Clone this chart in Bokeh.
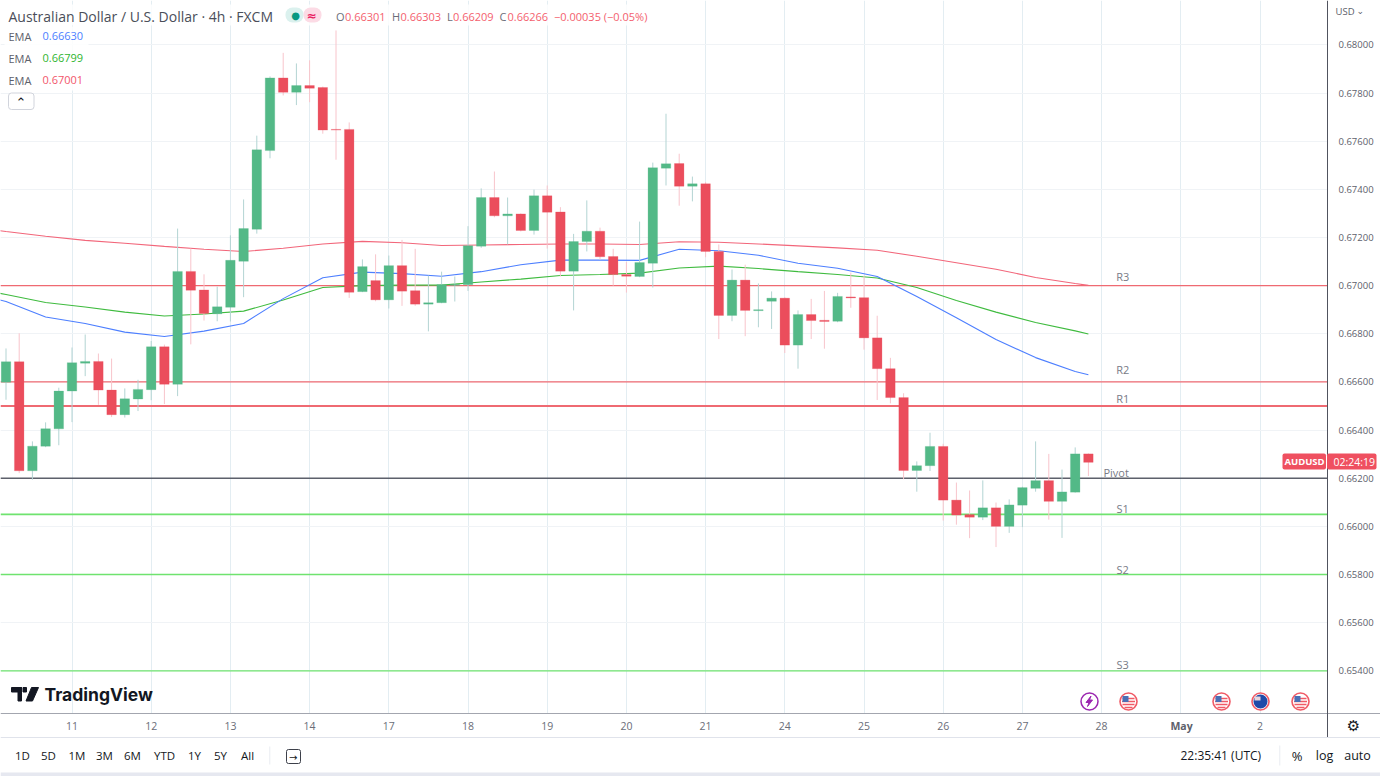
from bokeh.embed import file_html
from bokeh.resources import INLINE
from bokeh.plotting import figure
from bokeh.core.properties import value
from bokeh.models import (ColumnDataSource, FixedTicker, LinearAxis, Range1d, Label,
                          BoxAnnotation, NumeralTickFormatter)

# ---------- data ----------
open_ = [.66599,.66684,.66231,.66333,.66405,.66562,.66678,.66685,.66566,.66464,.66529,.66568,.66746,.66590,.67059,.66982,.66883,.66910,.67101,.67234,.67561,.67863,.67803,.67831,.67823,.67649,.67649,.66975,.67021,.66941,.67083,.66979,.66923,.66929,.67001,.67004,.67164,.67366,.67290,.67298,.67229,.67373,.67306,.67060,.67183,.67226,.67121,.67046,.67038,.67093,.67488,.67507,.67413,.67423,.67142,.66876,.67023,.66896,.66935,.66948,.66753,.66880,.66856,.66852,.66953,.66950,.66783,.66655,.66535,.66232,.66252,.66332,.66109,.66049,.66038,.66077,.66000,.66088,.66158,.66190,.66104,.66142,.66301]
high_ = [.66739,.66802,.66353,.66432,.66576,.66743,.66797,.66718,.66697,.66573,.66609,.66770,.66755,.67237,.67154,.67047,.66996,.67209,.67358,.67623,.67869,.67967,.67923,.67936,.67827,.68060,.67678,.67109,.67130,.67125,.67190,.67153,.67042,.67058,.67038,.67247,.67404,.67474,.67366,.67300,.67399,.67416,.67326,.67215,.67354,.67241,.67153,.67098,.67266,.67511,.67714,.67548,.67453,.67430,.67171,.67067,.67087,.67009,.66976,.66952,.66897,.66945,.66978,.66970,.67054,.67041,.66875,.66700,.66553,.66270,.66389,.66343,.66182,.66149,.66191,.66099,.66112,.66165,.66353,.66301,.66236,.66328,.66303]
low_ = [.66526,.66221,.66194,.66329,.66337,.66433,.66624,.66505,.66454,.66452,.66479,.66524,.66508,.66541,.66756,.66855,.66852,.66851,.66952,.67216,.67529,.67790,.67750,.67762,.67631,.67523,.66949,.66973,.66935,.66905,.66916,.66916,.66810,.66927,.66934,.66978,.67157,.67284,.67171,.67225,.67212,.67154,.67038,.66897,.67142,.67108,.67000,.66971,.67035,.66992,.67416,.67332,.67350,.67118,.66778,.66852,.66790,.66827,.66820,.66720,.66655,.66778,.66738,.66848,.66908,.66734,.66525,.66511,.66196,.66144,.66230,.66024,.66007,.65951,.66026,.65914,.65973,.65997,.66144,.66028,.65952,.66140,.66209]
close_ = [.66684,.66231,.66333,.66406,.66562,.66680,.66685,.66566,.66464,.66530,.66569,.66746,.66590,.67059,.66981,.66884,.66912,.67105,.67237,.67564,.67863,.67803,.67831,.67820,.67646,.67646,.66972,.67079,.66941,.67083,.66977,.66923,.66929,.67004,.67005,.67166,.67366,.67290,.67298,.67229,.67373,.67305,.67060,.67183,.67226,.67120,.67046,.67039,.67096,.67490,.67506,.67413,.67423,.67142,.66876,.67023,.66897,.66900,.66948,.66753,.66880,.66855,.66851,.66955,.66949,.66783,.66655,.66535,.66232,.66252,.66332,.66109,.66047,.66038,.66077,.66000,.66089,.66161,.66190,.66104,.66143,.66301,.66266]

ema_idx = [-1,0,3,6,9,12,15,18,21,24,27,30,33,36,39,42,45,48,51,54,57,60,63,66,69,72,75,78,81,82]
ema_red = [.67232,.67225,.67205,.67188,.67176,.67163,.67151,.67142,.67155,.67173,.67184,.67178,.67167,.67169,.67171,.67173,.67173,.67171,.67182,.67180,.67173,.67165,.67157,.67147,.67122,.67095,.67068,.67034,.67009,.67001]
ema_blue = [.66948,.66934,.66870,.66843,.66807,.66789,.66811,.66843,.66946,.67033,.67056,.67050,.67039,.67058,.67087,.67106,.67106,.67105,.67151,.67145,.67126,.67093,.67072,.67038,.66955,.66867,.66776,.66701,.66643,.66630]
ema_green = [.66974,.66963,.66930,.66911,.66890,.66874,.66882,.66894,.66940,.66992,.67000,.67002,.67002,.67015,.67027,.67042,.67046,.67052,.67073,.67081,.67071,.67058,.67046,.67032,.66992,.66938,.66890,.66847,.66812,.66799]

level_names = ["R3","R2","R1","Pivot","S1","S2","S3"]
level_values = [.6700,.6660,.6650,.6620,.6605,.6580,.6540]
level_colors = ["#ef6a72","#ef6a72","#ef6a72","#5d606b","#6fe36f","#6fe36f","#6fe36f"]
level_widths = [1.3,1.3,1.8,1.5,1.8,1.5,1.3]
level_label_idx = [84.6,84.6,84.6,84.1,84.6,84.6,84.6]
level_label_off = [-2,-5,0,2,2,2,1]

price_ticks = [.654,.656,.658,.660,.662,.664,.666,.668,.670,.672,.674,.676,.678,.680]
time_ticks = [5,11,17,23,29,35,41,47,53,59,65,71,77,83,89,95]
time_labels = ["11","12","13","14","17","18","19","20","21","24","25","26","27","28","May","2"]

range_buttons = ["1D","5D","1M","3M","6M","YTD","1Y","5Y","All"]

# ---------- frame / scales ----------
GX0, GSTEP = 5.5, 13.2        # px of candle 0, px per candle
Y680, PPP = 44.4, 4.154e-5    # px of 0.68000, price per px
ix = lambda px: (px - GX0) / GSTEP
iy = lambda py: 0.68 - (py - Y680) * PPP

FONT = "Open Sans"
AXX, AXY = 1327, 713
p = figure(frame_width=1380, frame_height=776, output_backend="svg", toolbar_location=None,
           x_range=Range1d(ix(0), ix(1380)), y_range=Range1d(iy(776), iy(0)),
           min_border=0, outline_line_color=None, background_fill_color="white",
           border_fill_color="white", y_axis_location=None)

p.xaxis.ticker = FixedTicker(ticks=time_ticks)
p.xaxis.major_label_overrides = {t: ("" if l == "May" else l) for t, l in zip(time_ticks, time_labels)}
p.xaxis.major_tick_line_color = None
p.xaxis.minor_tick_line_color = None
p.xaxis.axis_line_color = "#a3a6af"
p.xaxis.major_label_text_color = "#6a6d78"
p.xaxis.major_label_text_font = FONT
p.xaxis.major_label_text_font_size = "10.5px"
p.xaxis.major_label_standoff = 2
p.xaxis.fixed_location = iy(AXY)

ya = LinearAxis(ticker=FixedTicker(ticks=price_ticks), formatter=NumeralTickFormatter(format="0.00000"),
                fixed_location=ix(AXX), bounds=(iy(737), iy(0)))
ya.major_tick_line_color = None
ya.minor_tick_line_color = None
ya.axis_line_color = "#50535e"
ya.major_label_text_color = "#5d606b"
ya.major_label_text_font = FONT
ya.major_label_text_font_size = "9.5px"
ya.major_label_standoff = 5
p.add_layout(ya, "right")

p.xgrid.ticker = FixedTicker(ticks=time_ticks)
p.xgrid.grid_line_color = "#e3edf2"
p.ygrid.grid_line_color = "#f0f3f6"
p.ygrid.ticker = FixedTicker(ticks=price_ticks)

def B(x0, y0, x1, y1, fill=None, line=None, radius=0, alpha=1.0, level="overlay"):
    p.add_layout(BoxAnnotation(left=x0, right=x1, top=y0, bottom=y1,
                               left_units="canvas", right_units="canvas", top_units="canvas", bottom_units="canvas",
                               fill_color=fill, fill_alpha=alpha if fill else 0, line_color=line,
                               line_alpha=1 if line else 0, line_width=1, border_radius=radius, level=level,
                               editable=False))

# white panels hide the grid outside the plotting area
B(AXX, 0, 1380, 776, fill="white", level="underlay")
B(0, AXY, 1380, 776, fill="white", level="underlay")
B(0, 4, 660, 25, fill="white", alpha=0.8, level="underlay")
B(4, 26, 88, 90, fill="white", alpha=0.85, level="underlay")

# ---------- pivot levels ----------
n_levels = len(level_values)
p.segment([ix(0)] * n_levels, level_values, [ix(AXX)] * n_levels, level_values,
          line_color=level_colors, line_width=level_widths)

# ---------- EMAs ----------
p.line(ema_idx, ema_red, line_color="#f2667a", line_width=1.1)
p.line(ema_idx, ema_green, line_color="#3fbb3f", line_width=1.1)
p.line(ema_idx, ema_blue, line_color="#4d7fff", line_width=1.1)

# ---------- candles ----------
idx = list(range(len(open_)))
up = [c >= o for o, c in zip(open_, close_)]
src = ColumnDataSource(dict(
    x=idx, high=high_, low=low_,
    top=[max(o, c) for o, c in zip(open_, close_)],
    bottom=[min(o, c) for o, c in zip(open_, close_)],
    body=["#53b987" if u else "#eb4d5c" for u in up],
    wick=["#b3d4d3" if u else "#f8c4cb" for u in up],
))
p.segment("x", "high", "x", "low", source=src, line_color="wick", line_width=1)
p.vbar("x", 0.72, "top", "bottom", source=src, fill_color="body", line_color="body", line_width=0.5, line_alpha=0.5)

# ---------- level labels ----------
p.text(level_label_idx, level_values, text=level_names, text_color="#787b86", text_font=value(FONT),
       text_font_size="11px", text_align="center", text_baseline="bottom",
       y_offset=level_label_off)

# ---------- chrome helpers ----------
def T(x, y, s, color="#131722", size=12, align="left", style="normal", font=FONT):
    p.add_layout(Label(x=x, y=y, x_units="canvas", y_units="canvas", text=s, text_color=color,
                       text_font=font, text_font_size=f"{size}px", text_align=align,
                       text_baseline="middle", text_font_style=style, level="overlay"))

# Legend
T(8, 16, "Australian Dollar / U.S. Dollar · 4h · FXCM", "#4a4e59", 14)
B(285, 7, 303, 22, fill="#dbf1ee", radius=7)
B(303, 7, 321, 22, fill="#fcdbe5", radius=7)
T(295, 15, "●", "#089981", 10, "center", font="DejaVu Sans")
T(311, 15, "≈", "#e91e63", 12, "center", "bold", font="DejaVu Sans")
RED = "#f4616e"
for lx, letter, vx, val in [(335.5, "O", 344.5, "0.66301"), (391.5, "H", 400, "0.66303"),
                            (446.5, "L", 452.5, "0.66209"), (499, "C", 507, "0.66266")]:
    T(lx, 16, letter, "#6a6d78", 11)
    T(vx, 16, val, RED, 11)
T(553.5, 16, "−0.00035 (−0.05%)", RED, 11)

for y, val, col in [(35.5, "0.66630", "#4d7fff"), (57.5, "0.66799", "#2fb52f"), (79.5, "0.67001", "#f2566a")]:
    T(8, y, "EMA", "#5d606b", 11)
    T(42, y, val, col, 11)
B(8, 92.5, 33.5, 109, fill="white", line="#d1d4dc", radius=3)
T(20.5, 102, "⌃", "#131722", 13, "center", font="DejaVu Sans")

# Price axis extras
T(1335, 11, "USD", "#5d606b", 9.5)
T(1356, 10, "⌄", "#5d606b", 9, font="DejaVu Sans")

# Current price tag
B(1282, 453, 1325.5, 469, fill="#ef5060", radius=2)
B(1326.5, 453, 1376, 469, fill="#ef5060", radius=2)
T(1304, 461, "AUDUSD", "white", 9.5, "center", "bold")
T(1333, 461, "02:24:19", "#ffffff", 10.5)

# Below-axis lines and texts
T(1181, 725, "May", "#5d606b", 10.5, "center", "bold")
B(0, 736.6, 1380, 737.4, fill="#e0e3eb")
B(0, 772, 1380, 776, fill="#e6e8f0")
T(1353, 725, "⚙", "#131722", 15, "center", font="DejaVu Sans")

for cx, s in zip([22, 48, 76.5, 104, 132, 164, 194, 220, 247], range_buttons):
    T(cx, 755, s, "#131722", 11.5, "center")
B(269, 746, 269.7, 764, fill="#e0e3eb")
B(286, 749, 300, 763, line="#3d404a", radius=2)
T(288.5, 757, "→", "#131722", 10, font="DejaVu Sans")
T(1180, 755, "22:35:41 (UTC)", "#131722", 12)
B(1279, 745, 1279.7, 765, fill="#e0e3eb")
T(1296.5, 755, "%", "#131722", 13, "center")
T(1324, 755, "log", "#131722", 12.5, "center")
T(1357, 755, "auto", "#131722", 12.5, "center")

# TradingView logo
p.quad(left=[ix(11), ix(17.5), ix(22.5)], right=[ix(21), ix(21), ix(26)],
       top=[iy(687), iy(687), iy(687)], bottom=[iy(691.5), iy(700.5), iy(691.5)], color="#131722")
p.patch([ix(31), ix(38), ix(32), ix(25.5)], [iy(687), iy(687), iy(700.5), iy(700.5)], color="#131722")
T(44, 694, "TradingView", "#131722", 17.5, style="bold", font="Inter")

# Calendar event icons
ev_x = [ix(1128), ix(1221), ix(1300)]
ev_y = iy(701)
p.scatter(ev_x + [ix(1260)], [ev_y] * 4, size=17, marker="circle", fill_color="white", line_color="#f05a66", line_width=1.6)
for dy, wid in [(-3, 12), (0, 13), (3, 12), (6, 8)]:
    p.rect(ev_x, [iy(701 + dy)] * 3, width=wid, height=1.5, width_units="screen", height_units="screen",
           fill_color="#f05a66", line_color=None)
p.rect([ix(x - 3) for x in (1128, 1221, 1300)], [iy(698.5)] * 3, width=6, height=6, width_units="screen",
       height_units="screen", fill_color="#4a6fb5", line_color=None)
p.scatter([ix(1260)], [ev_y], size=14, marker="circle", fill_color="#1f4aa8", line_color=None)
p.rect([ix(1257)], [iy(698)], width=6, height=4, width_units="screen", height_units="screen", fill_color="#e8d5dd", line_color=None)
p.scatter([ix(1089)], [ev_y], size=17, marker="circle", fill_color="white", line_color="#9c27b0", line_width=1.5)
p.patch([ix(1090.5), ix(1085.5), ix(1088.5), ix(1087), ix(1092), ix(1089)],
        [iy(695.5), iy(702), iy(702), iy(706), iy(699.5), iy(699.5)], color="#9c27b0")

open("out.html", "w").write(file_html(p, INLINE))
